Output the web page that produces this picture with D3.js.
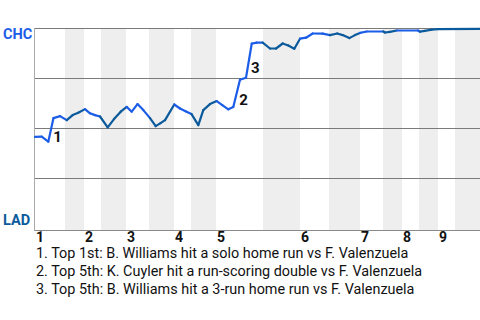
<!DOCTYPE html>
<html>
<head>
<meta charset="utf-8">
<script src="https://cdn.jsdelivr.net/npm/d3@7"></script>
<style>
  html, body { margin: 0; padding: 0; background: #fff; }
  svg { display: block; font-family: Roboto, "Liberation Sans", Arial, sans-serif; }
</style>
</head>
<body>
<svg id="chart" width="480" height="320"></svg>
<script>
// ---------- DATA ----------
const teams = ["CHC", "LAD"];               // top = CHC (100%), bottom = LAD (0%)
const teamColors = ["#1c5de8", "#0b5a9c"];
// game progress (play units) and CHC win probability
const progress = [0, 1.16, 2.30, 3.20, 4.33, 5.49, 6.52, 7.49, 8.65, 9.52, 10.38, 11.25,
  12.58, 13.67, 14.83, 15.87, 16.73, 17.74, 18.74, 19.90, 20.89, 21.72, 22.50, 24.10,
  25.09, 26.13, 27.08, 28.26, 29.12, 30.28, 31.44, 32.41, 33.45, 34.31, 35.47, 36.51,
  37.50, 38.36, 39.40, 40.66, 41.70, 42.86, 43.83, 44.87, 45.86, 46.90, 48.05, 49.78,
  51.04, 52.30, 53.24, 54.39, 55.37, 56.24, 57.40, 60.27, 60.56, 61.43, 62.59, 66.27,
  66.60, 67.46, 68.64, 69.74, 77.00];
const chcWinProb = [0.458, 0.459, 0.434, 0.552, 0.562, 0.542, 0.567, 0.579, 0.597, 0.576, 0.567, 0.560,
  0.506, 0.547, 0.584, 0.608, 0.584, 0.622, 0.592, 0.552, 0.512, 0.527, 0.542, 0.620,
  0.600, 0.585, 0.572, 0.517, 0.592, 0.622, 0.637, 0.617, 0.596, 0.608, 0.744, 0.754,
  0.924, 0.929, 0.929, 0.900, 0.900, 0.925, 0.915, 0.899, 0.949, 0.954, 0.975, 0.974,
  0.967, 0.975, 0.967, 0.952, 0.967, 0.978, 0.985, 0.985, 0.980, 0.983, 0.990, 0.990,
  0.984, 0.988, 0.994, 0.997, 0.998];
// half-inning start positions (even = top, CHC batting; odd = bottom, LAD batting)
const halfInningStarts = [0, 5.19, 8.48, 11.42, 15.75, 19.73, 24.05, 26.99, 31.32, 39.45,
  45.86, 50.87, 56.24, 60.22, 63.51, 66.45, 69.74, 72.68];
const gameEnd = 77;
const inningLabels = ["1", "2", "3", "4", "5", "6", "7", "8", "9"];
const probTicks = [0, 0.25, 0.5, 0.75, 1];
// key plays: label and index of the point just before the swing
const keyPlayLabels = ["1", "2", "3"];
const keyPlayIndex = [2, 33, 35];
const keyPlayText = [
  "1. Top 1st: B. Williams hit a solo home run vs F. Valenzuela",
  "2. Top 5th: K. Cuyler hit a run-scoring double vs F. Valenzuela",
  "3. Top 5th: B. Williams hit a 3-run home run vs F. Valenzuela"
];

// ---------- DRAW ----------
const svg = d3.select("#chart");
const left = 35, right = 480;
const x = d3.scaleLinear().domain([0, gameEnd]).range([left, right]);
const y = d3.scaleLinear().domain([0, 1]).range([228.5, 28.5]);
const plotTop = 28, plotBottom = 231;

// half-inning bands
const halves = halfInningStarts.map((s, i) => ({
  start: s,
  end: i + 1 < halfInningStarts.length ? halfInningStarts[i + 1] : gameEnd,
  bottom: i % 2 === 1,
  inning: Math.floor(i / 2)
}));
svg.append("g").selectAll("rect").data(halves.filter(h => h.bottom)).join("rect")
  .attr("x", d => x(d.start)).attr("width", d => x(d.end) - x(d.start))
  .attr("y", plotTop).attr("height", plotBottom - plotTop)
  .attr("fill", "#eeeeee");

// gridlines
svg.append("g").selectAll("line").data(probTicks.filter(t => t > 0)).join("line")
  .attr("x1", left).attr("x2", right)
  .attr("y1", d => y(d)).attr("y2", d => y(d))
  .attr("stroke", "#7a7a7a").attr("stroke-width", 1);
// bottom & left frame
svg.append("line").attr("x1", left).attr("x2", right)
  .attr("y1", plotBottom - 0.5).attr("y2", plotBottom - 0.5)
  .attr("stroke", "#8a8a8a").attr("stroke-width", 1);
svg.append("line").attr("x1", left - 0.5).attr("x2", left - 0.5)
  .attr("y1", plotTop).attr("y2", plotBottom)
  .attr("stroke", "#aaaaaa").attr("stroke-width", 1);

// team labels
svg.append("text").attr("x", 3).attr("y", y(1) + 10).text(teams[0])
  .attr("font-size", 14.5).attr("font-weight", "bold").attr("fill", teamColors[0]);
svg.append("text").attr("x", 3).attr("y", 225).text(teams[1])
  .attr("font-size", 14.5).attr("font-weight", "bold").attr("fill", teamColors[1]);

// win probability line, segment coloured by batting team
const pts = progress.map((p, i) => ({ p, v: chcWinProb[i] }));
function halfOf(pos) {
  let idx = 0;
  halfInningStarts.forEach((s, i) => { if (pos >= s) idx = i; });
  return idx;
}
const segs = d3.pairs(pts).map(([a, b]) => ({ a, b, bottom: halfOf((a.p + b.p) / 2) % 2 === 1 }));
const line = d3.line().x(d => x(d.p)).y(d => y(d.v));
svg.append("g").selectAll("path").data(segs).join("path")
  .attr("d", d => line([d.a, d.b]))
  .attr("fill", "none")
  .attr("stroke", d => d.bottom ? teamColors[1] : teamColors[0])
  .attr("stroke-width", 2.2)
  .attr("stroke-linecap", "round")
  .attr("stroke-linejoin", "round");

// key play markers
const markerOffsets = [[5, 0.5], [6, -1.5], [5, -5]];
svg.append("g").selectAll("text").data(keyPlayLabels).join("text")
  .attr("x", (d, i) => x(progress[keyPlayIndex[i]]) + markerOffsets[i][0])
  .attr("y", (d, i) => y(chcWinProb[keyPlayIndex[i]]) + markerOffsets[i][1])
  .attr("font-size", 15).attr("font-weight", "bold").attr("fill", "#111")
  .text(d => d);

// inning labels
const tops = halves.filter(h => !h.bottom);
svg.append("g").selectAll("text").data(tops).join("text")
  .attr("x", d => x(d.start) + 1)
  .attr("y", 242)
  .attr("font-size", 14).attr("font-weight", "bold").attr("fill", "#111")
  .text((d, i) => inningLabels[i]);

// key play descriptions
svg.append("g").selectAll("text").data(keyPlayText).join("text")
  .attr("x", 36).attr("y", (d, i) => 258.3 + i * 17.6)
  .attr("font-size", 14.4).attr("fill", "#111")
  .text(d => d);
</script>
</body>
</html>
